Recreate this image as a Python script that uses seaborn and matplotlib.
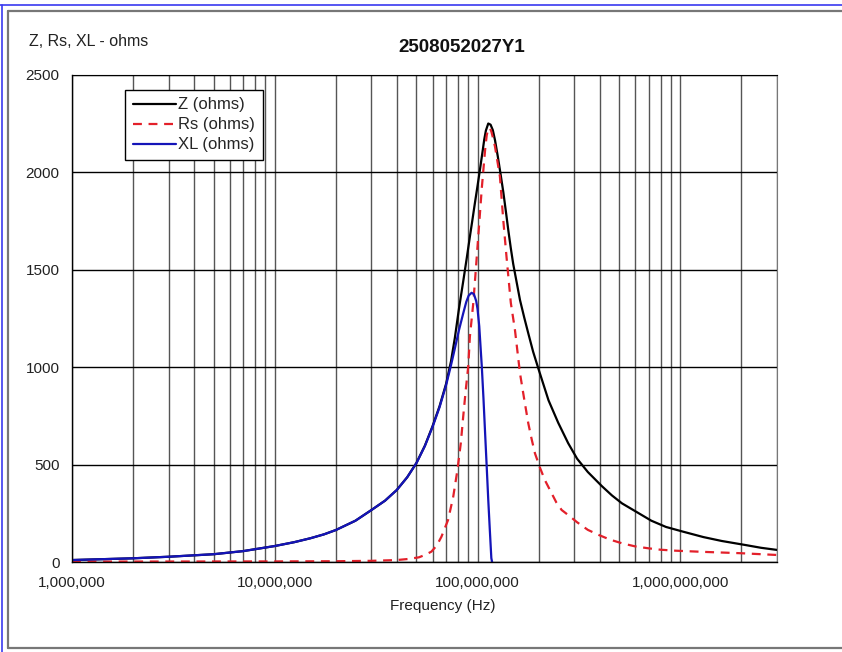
import numpy as np
import matplotlib
matplotlib.use("Agg")
import matplotlib.pyplot as plt
from matplotlib.lines import Line2D
from matplotlib.ticker import LogLocator, FuncFormatter, NullFormatter, MultipleLocator
import seaborn as sns

# Data (frequency in Hz, impedance in ohms)
z_freq = [1e6, 2e6, 3e6, 5e6, 7e6, 1e7, 1.25e7, 1.5e7, 1.75e7, 2e7, 2.5e7, 3e7, 3.5e7,
          4e7, 4.5e7, 5e7, 5.5e7, 6e7, 6.5e7, 7e7, 7.4e7, 7.73e7, 8.1e7, 8.5e7, 8.85e7,
          9.17e7, 9.45e7, 9.7e7, 1.0e8, 1.03e8, 1.06e8, 1.08e8, 1.1e8, 1.13e8, 1.16e8,
          1.19e8, 1.22e8, 1.26e8, 1.3e8, 1.34e8, 1.38e8, 1.42e8, 1.46e8, 1.5e8, 1.62e8,
          1.7e8, 1.78e8, 1.88e8, 2.0e8, 2.24e8, 2.5e8, 2.8e8, 3.1e8, 3.5e8, 4.1e8,
          4.6e8, 5.16e8, 6.2e8, 7.2e8, 8.5e8, 1.03e9, 1.3e9, 1.6e9, 2.1e9, 2.5e9, 3e9]
z_ohms = [10, 19, 27, 40, 56, 82, 102, 122, 142, 164, 212, 267, 315,
          370, 435, 509, 597, 697, 800, 915, 1030, 1150, 1300, 1440, 1560,
          1670, 1760, 1840, 1930, 2020, 2110, 2170, 2215, 2251, 2245,
          2217, 2165, 2080, 1990, 1900, 1800, 1700, 1610, 1530, 1345,
          1255, 1174, 1080, 990, 830, 715, 610, 530, 462, 390,
          342, 301, 252, 212, 180, 156, 128, 108, 87, 73, 62]

rs_freq = [1e6, 1e7, 2e7, 3e7, 4e7, 4.6e7, 5.14e7, 5.5e7, 5.92e7, 6.3e7, 6.64e7,
           7.16e7, 7.59e7, 7.96e7, 8.27e7, 8.5e7, 8.75e7, 9.0e7, 9.17e7, 9.53e7,
           9.78e7, 1.01e8, 1.05e8, 1.09e8, 1.11e8, 1.13e8, 1.15e8, 1.17e8, 1.2e8,
           1.22e8, 1.29e8, 1.34e8, 1.39e8, 1.46e8, 1.53e8, 1.62e8, 1.7e8, 1.78e8,
           1.85e8, 1.92e8, 2.04e8, 2.15e8, 2.32e8, 2.45e8, 2.6e8, 2.85e8, 3.09e8,
           3.5e8, 3.96e8, 4.5e8, 5.16e8, 6e8, 7e8, 8e8, 9.5e8, 1.3e9, 2e9, 3e9]
rs_ohms = [2, 3, 4, 6, 10, 16, 24, 36, 53, 85, 130,
           216, 335, 472, 609, 746, 883, 1003, 1157, 1328,
           1482, 1680, 1920, 2115, 2190, 2225, 2228, 2210, 2165,
           2132, 1978, 1755, 1567, 1330, 1191, 969, 835, 712,
           630, 558, 480, 420, 353, 305, 267, 235, 205,
           165, 139, 115, 96, 80, 70, 63, 58, 52, 45, 36]

xl_freq = [1e6, 2e6, 3e6, 5e6, 7e6, 1e7, 1.25e7, 1.5e7, 1.75e7, 2e7, 2.5e7, 3e7, 3.5e7,
           4e7, 4.5e7, 5e7, 5.5e7, 6e7, 6.5e7, 7e7, 7.4e7, 7.7e7, 8.1e7, 8.5e7, 8.8e7,
           9.05e7, 9.35e7, 9.6e7, 9.85e7, 1.0e8, 1.02e8, 1.05e8, 1.07e8, 1.09e8,
           1.11e8, 1.13e8, 1.15e8, 1.17e8, 1.18e8]
xl_ohms = [10, 19, 27, 40, 56, 82, 102, 122, 142, 164, 212, 267, 315,
           370, 435, 508, 595, 693, 795, 908, 1010, 1088, 1190, 1276, 1335,
           1368, 1382, 1375, 1340, 1300, 1210, 1003, 840, 662,
           490, 318, 165, 20, 0]

title = "2508052027Y1"
y_title = "Z, Rs, XL - ohms"
x_title = "Frequency (Hz)"

sns.set_style("white")
plt.rcParams["font.family"] = ["Liberation Sans", "DejaVu Sans"]

fig = plt.figure(figsize=(8.42, 6.52), dpi=100)
ax = fig.add_axes([72 / 842, 1 - 562 / 652, 705 / 842, 487 / 652])

sns.lineplot(x=z_freq, y=z_ohms, ax=ax, color="black", lw=1.6, label="Z (ohms)",
             sort=False, estimator=None)
sns.lineplot(x=rs_freq, y=rs_ohms, ax=ax, color="#e3202a", lw=1.6, label="Rs (ohms)",
             sort=False, estimator=None, linestyle=(0, (4, 3)))
sns.lineplot(x=xl_freq, y=xl_ohms, ax=ax, color="#1414b8", lw=1.6, label="XL (ohms)",
             sort=False, estimator=None)

ax.set_xscale("log")
ax.set_xlim(1e6, 3e9)
ax.set_ylim(0, 2500)
ax.yaxis.set_major_locator(MultipleLocator(500))
ax.xaxis.set_major_locator(LogLocator(base=10))
ax.xaxis.set_minor_locator(LogLocator(base=10, subs=np.arange(2, 10)))
ax.xaxis.set_major_formatter(FuncFormatter(lambda v, p: f"{v:,.0f}"))
ax.xaxis.set_minor_formatter(NullFormatter())

ax.grid(True, axis="y", color="black", lw=1.0)
ax.grid(True, axis="x", which="both", color="#555555", lw=1.0)
ax.set_axisbelow(True)

for s in ["left", "bottom"]:
    ax.spines[s].set_color("black")
    ax.spines[s].set_linewidth(1.0)
ax.spines["top"].set_color("black")
ax.spines["right"].set_color("#777777")

ax.tick_params(axis="x", which="major", direction="inout", length=8, width=1,
               labelsize=11, pad=6, colors="black")
ax.tick_params(axis="x", which="minor", length=0)
ax.tick_params(axis="y", direction="out", length=5, width=1, labelsize=11,
               pad=4, colors="black")
for lab in ax.get_xticklabels() + ax.get_yticklabels():
    lab.set_color("#222222")

ax.set_xlabel(x_title, fontsize=11, color="#222222")
ax.xaxis.set_label_coords((443 - 72) / 705, -0.075)
ax.set_ylabel("")

leg = ax.legend(loc="upper left", bbox_to_anchor=((125 - 72) / 705, (562 - 90) / 487),
                borderaxespad=0, fancybox=False, framealpha=1, edgecolor="black",
                fontsize=12, handlelength=2.6, handletextpad=0.15,
                borderpad=0.45, labelspacing=0.3)
leg.get_frame().set_linewidth(1.0)

fig.text(462 / 842, 1 - 47 / 652, title, ha="center", va="center",
         fontsize=13.5, fontweight="bold", color="#111111")
fig.text(29 / 842, 1 - 42 / 652, y_title, ha="left", va="center",
         fontsize=11.5, color="#222222")

# outer frame
fig.add_artist(Line2D([0, 1], [1 - 5 / 652, 1 - 5 / 652], transform=fig.transFigure,
                      color="#3a3af0", lw=1.2))
fig.add_artist(Line2D([1.5 / 842, 1.5 / 842], [0, 1 - 5 / 652], transform=fig.transFigure,
                      color="#3a3af0", lw=1.2))
fig.add_artist(Line2D([8 / 842, 1], [1 - 11 / 652, 1 - 11 / 652], transform=fig.transFigure,
                      color="#777777", lw=1.6))
fig.add_artist(Line2D([8 / 842, 8 / 842], [4 / 652, 1 - 11 / 652], transform=fig.transFigure,
                      color="#777777", lw=1.6))
fig.add_artist(Line2D([8 / 842, 1], [4 / 652, 4 / 652], transform=fig.transFigure,
                      color="#777777", lw=1.6))

fig.savefig("out.png", dpi=100, facecolor="white")
